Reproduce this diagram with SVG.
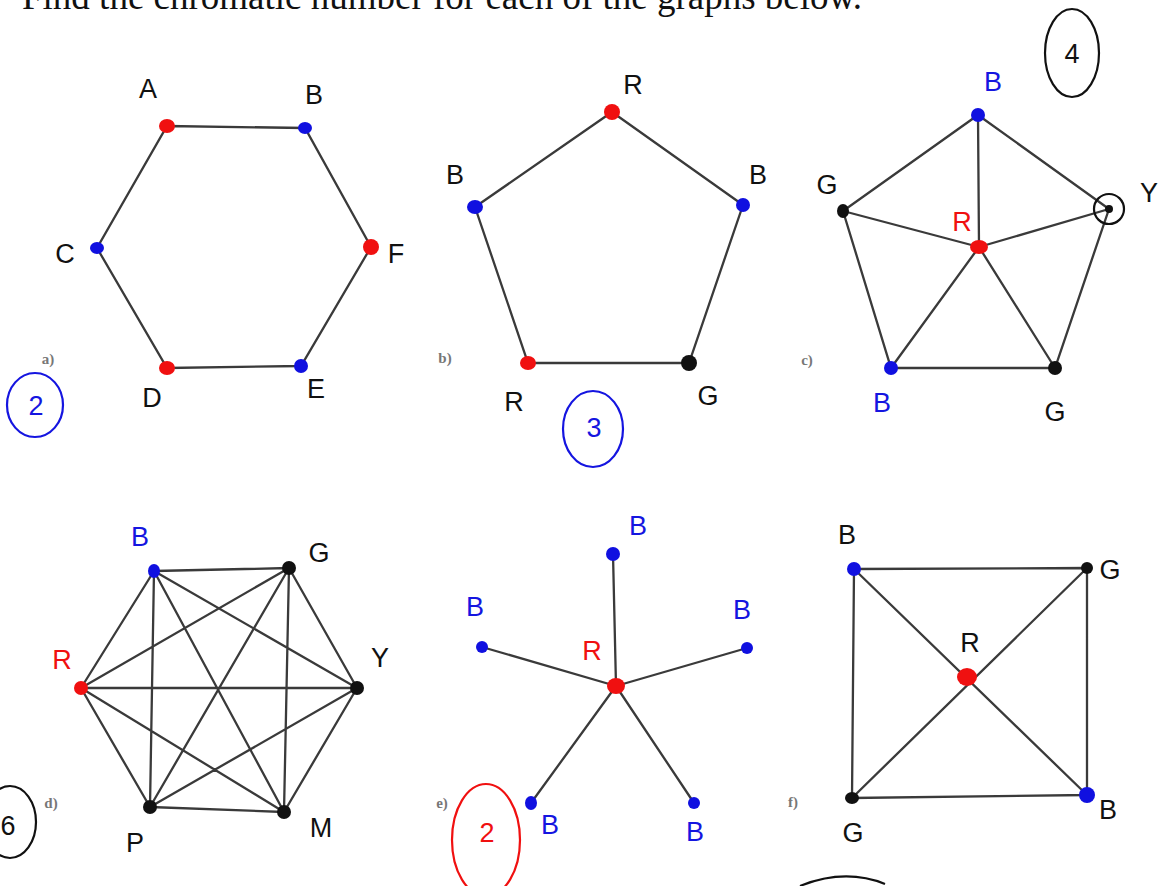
<svg xmlns="http://www.w3.org/2000/svg" width="1159" height="886" viewBox="0 0 1159 886">
<style>
.e{stroke:#3a3a3a;stroke-width:2.3;fill:none;stroke-linecap:round}
.r{fill:#f01010}.b{fill:#1010e0}.k{fill:#111}
.hl{font-family:"Liberation Sans",Arial,sans-serif;font-size:27px;text-anchor:middle;dominant-baseline:central}
.hk{fill:#111}.hb{fill:#1515e0}.hr{fill:#f01010}
.sub{font-family:"Liberation Serif","Times New Roman",serif;font-size:15px;font-weight:bold;fill:#777;text-anchor:middle;dominant-baseline:central}
.ring{fill:none;stroke-width:2.2}
</style>
<rect width="1159" height="886" fill="#fff"/>
<text x="22" y="9" font-family="Liberation Serif,'Times New Roman',serif" font-size="37" fill="#111">Find the chromatic number for each of the graphs below.</text>

<g id="connectors">
 <!-- a -->
 <path class="e" d="M167,126 L305,128 L371,247 L301,366 L167,368 L97,248 Z"/>
 <!-- b -->
 <path class="e" d="M612,112 L743,205 L689,363 L528,363 L475,207 Z"/>
 <!-- c -->
 <path class="e" d="M978,115 L1109,209 L1055,368 L891,368 L843,211 Z"/>
 <path class="e" d="M979,247 L978,115 M979,247 L1109,209 M979,247 L1055,368 M979,247 L891,368 M979,247 L843,211"/>
 <!-- d K6 -->
 <path class="e" d="M154,571 L289,568 M154,571 L357,688 M154,571 L284,812 M154,571 L150,807 M154,571 L81,688
  M289,568 L357,688 M289,568 L284,812 M289,568 L150,807 M289,568 L81,688
  M357,688 L284,812 M357,688 L150,807 M357,688 L81,688
  M284,812 L150,807 M284,812 L81,688 M150,807 L81,688"/>
 <!-- e -->
 <path class="e" d="M616,686 L613,554 M616,686 L482,647 M616,686 L747,648 M616,686 L531,803 M616,686 L694,803"/>
 <!-- f -->
 <path class="e" d="M854,569 L1087,568 L1087,795 L852,798 Z M854,569 L1087,795 M1087,568 L852,798"/>
</g>

<g id="graph-a">
 <ellipse id="a-A" class="r" cx="167" cy="126" rx="8" ry="7"/>
 <ellipse id="a-B" class="b" cx="305" cy="128" rx="7" ry="6"/>
 <ellipse id="a-F" class="r" cx="371" cy="247" rx="8" ry="8"/>
 <ellipse id="a-E" class="b" cx="301" cy="366" rx="7" ry="7"/>
 <ellipse id="a-D" class="r" cx="167" cy="368" rx="8" ry="7"/>
 <ellipse id="a-C" class="b" cx="97" cy="248" rx="7" ry="6"/>
 <text class="hl hk" x="148" y="89">A</text>
 <text class="hl hk" x="314" y="95">B</text>
 <text class="hl hk" x="65" y="254">C</text>
 <text class="hl hk" x="396" y="254">F</text>
 <text class="hl hk" x="152" y="398">D</text>
 <text class="hl hk" x="316" y="389">E</text>
 <text class="sub" x="48" y="359">a)</text>
 <ellipse class="ring" stroke="#1515e0" cx="35" cy="405" rx="28" ry="32"/>
 <text class="hl hb" x="36" y="406" font-size="34">2</text>
</g>

<g id="graph-b">
 <ellipse class="r" cx="612" cy="112" rx="8" ry="8"/>
 <ellipse class="b" cx="475" cy="207" rx="8" ry="7"/>
 <ellipse class="b" cx="743" cy="205" rx="7" ry="7"/>
 <ellipse class="r" cx="528" cy="363" rx="8" ry="7"/>
 <ellipse class="k" cx="689" cy="363" rx="8" ry="8"/>
 <text class="hl hk" x="633" y="85" font-size="30">R</text>
 <text class="hl hk" x="455" y="175" font-size="30">B</text>
 <text class="hl hk" x="758" y="175" font-size="30">B</text>
 <text class="hl hk" x="514" y="402" font-size="30">R</text>
 <text class="hl hk" x="708" y="396" font-size="30">G</text>
 <text class="sub" x="445" y="358">b)</text>
 <ellipse class="ring" stroke="#1515e0" cx="593" cy="429" rx="30" ry="38"/>
 <text class="hl hb" x="594" y="428" font-size="36">3</text>
</g>

<g id="graph-c">
 <ellipse class="b" cx="978" cy="115" rx="7" ry="7"/>
 <ellipse class="k" cx="843" cy="211" rx="6" ry="7"/>
 <ellipse class="k" cx="1109" cy="209" rx="4" ry="4"/>
 <circle class="ring" stroke="#111" cx="1109" cy="209" r="15"/>
 <ellipse class="r" cx="979" cy="247" rx="9" ry="7"/>
 <ellipse class="b" cx="891" cy="368" rx="7" ry="7"/>
 <ellipse class="k" cx="1055" cy="368" rx="7" ry="7"/>
 <text class="hl hb" x="993" y="82">B</text>
 <text class="hl hk" x="827" y="185">G</text>
 <text class="hl hk" x="1149" y="193" font-size="30">Y</text>
 <text class="hl hr" x="962" y="222">R</text>
 <text class="hl hb" x="882" y="403">B</text>
 <text class="hl hk" x="1055" y="412">G</text>
 <text class="sub" x="807" y="360">c)</text>
 <ellipse class="ring" stroke="#111" cx="1072" cy="53" rx="27" ry="44"/>
 <text class="hl hk" x="1072" y="54" font-size="38">4</text>
</g>

<g id="graph-d">
 <ellipse class="b" cx="154" cy="571" rx="6" ry="7"/>
 <ellipse class="k" cx="289" cy="568" rx="7" ry="7"/>
 <ellipse class="k" cx="357" cy="688" rx="7" ry="7"/>
 <ellipse class="k" cx="284" cy="812" rx="7" ry="7"/>
 <ellipse class="k" cx="150" cy="807" rx="7" ry="7"/>
 <ellipse class="r" cx="81" cy="688" rx="7" ry="7"/>
 <text class="hl hb" x="140" y="537">B</text>
 <text class="hl hk" x="319" y="553" font-size="34">G</text>
 <text class="hl hk" x="380" y="658" font-size="32">Y</text>
 <text class="hl hk" x="321" y="828" font-size="34">M</text>
 <text class="hl hk" x="135" y="843" font-size="34">P</text>
 <text class="hl hr" x="62" y="660" font-size="32">R</text>
 <text class="sub" x="51" y="803">d)</text>
 <ellipse class="ring" stroke="#111" cx="10" cy="822" rx="26" ry="36"/>
 <text class="hl hk" x="8" y="826" font-size="34">6</text>
</g>

<g id="graph-e">
 <ellipse class="r" cx="616" cy="686" rx="9" ry="8"/>
 <ellipse class="b" cx="613" cy="554" rx="7" ry="7"/>
 <ellipse class="b" cx="482" cy="647" rx="6" ry="6"/>
 <ellipse class="b" cx="747" cy="648" rx="6" ry="6"/>
 <ellipse class="b" cx="531" cy="803" rx="6" ry="7"/>
 <ellipse class="b" cx="694" cy="803" rx="6" ry="6"/>
 <text class="hl hb" x="638" y="526" font-size="30">B</text>
 <text class="hl hb" x="475" y="607">B</text>
 <text class="hl hb" x="742" y="610" font-size="24">B</text>
 <text class="hl hr" x="592" y="651" font-size="24">R</text>
 <text class="hl hb" x="550" y="825">B</text>
 <text class="hl hb" x="695" y="832">B</text>
 <text class="sub" x="442" y="803">e)</text>
 <ellipse class="ring" stroke="#f01010" cx="486" cy="840" rx="34" ry="56"/>
 <text class="hl hr" x="487" y="833" font-size="40">2</text>
</g>

<g id="graph-f">
 <ellipse class="b" cx="854" cy="569" rx="7" ry="7"/>
 <ellipse class="k" cx="1087" cy="568" rx="6" ry="6"/>
 <ellipse class="r" cx="967" cy="677" rx="10" ry="9"/>
 <ellipse class="k" cx="852" cy="798" rx="7" ry="6"/>
 <ellipse class="b" cx="1087" cy="795" rx="8" ry="8"/>
 <text class="hl hk" x="847" y="535">B</text>
 <text class="hl hk" x="1110" y="570" font-size="32">G</text>
 <text class="hl hk" x="970" y="643" font-size="24">R</text>
 <text class="hl hk" x="853" y="833" font-size="32">G</text>
 <text class="hl hk" x="1108" y="810" font-size="30">B</text>
 <text class="sub" x="793" y="802">f)</text>
 <path class="ring" stroke="#111" d="M800,886 Q845,868 885,884"/>
</g>
</svg>
